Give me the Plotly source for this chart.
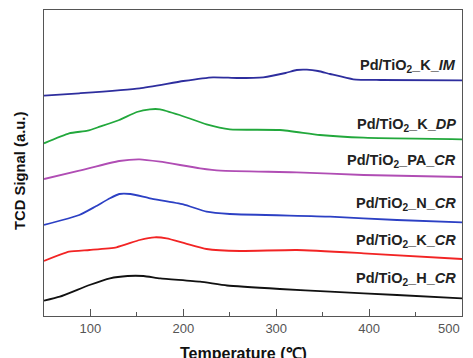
import plotly.graph_objects as go

# Temperature (°C) and TCD signal (a.u., arbitrary offset units)
t_im = [50, 88, 153, 200, 232, 258, 286, 310, 322, 333, 345, 358, 383, 412, 500]
v_im = [220.3, 222.7, 227.7, 235, 238.7, 238, 238.7, 243, 246, 246.3, 245, 242, 236.7, 236, 235.7]

t_dp = [50, 77, 97, 110, 131, 150, 164, 175, 196, 225, 250, 304, 347, 394, 500]
v_dp = [172.7, 182.7, 185.3, 189.3, 196, 204, 206.7, 206.7, 201, 191.7, 186.7, 186, 181, 178.3, 176.7]

t_pa = [50, 88, 131, 153, 175, 218, 240, 322, 394, 500]
v_pa = [137, 145.3, 155, 156.7, 154.3, 147.7, 145.3, 143.7, 141, 139]

t_n = [50, 88, 105, 121, 131, 143, 164, 200, 225, 250, 358, 430, 500]
v_n = [91, 101, 109.3, 117.7, 122, 122, 117.7, 111.7, 104.3, 102, 99.3, 96, 93.7]

t_k = [50, 77, 99, 128, 153, 169, 182, 202, 225, 261, 322, 394, 500]
v_k = [55, 64.3, 66, 68.7, 76, 78.7, 77.7, 72.7, 67, 65, 66, 62.7, 57]

t_h = [50, 67, 99, 121, 140, 157, 175, 218, 247, 304, 358, 430, 500]
v_h = [15.3, 19.3, 31, 37.7, 40, 40, 37.7, 34.3, 30.5, 27, 24.3, 21, 17.7]

labels = ["Pd/TiO<sub>2</sub>_K_<i>IM</i>", "Pd/TiO<sub>2</sub>_K_<i>DP</i>",
          "Pd/TiO<sub>2</sub>_PA_<i>CR</i>", "Pd/TiO<sub>2</sub>_N_<i>CR</i>",
          "Pd/TiO<sub>2</sub>_K_<i>CR</i>", "Pd/TiO<sub>2</sub>_H_<i>CR</i>"]
label_y = [250, 191, 155, 112, 75, 37]

x_ticks = [100, 200, 300, 400, 500]
x_ticktext = ["100", "200", "300", "400", ""]
last_tick_label = "500"

series = [(t_im, v_im, "#2E2E9E"), (t_dp, v_dp, "#22A83C"), (t_pa, v_pa, "#B04DB4"),
          (t_n, v_n, "#2C40C4"), (t_k, v_k, "#F22424"), (t_h, v_h, "#111111")]

FONT = "Liberation Sans, Arial"

fig = go.Figure()
for (t, v, c), name in zip(series, labels):
    fig.add_trace(go.Scatter(x=t, y=v, mode="lines",
                             line=dict(color=c, width=1.8, shape="spline", smoothing=0.5),
                             name=name, showlegend=False, hoverinfo="skip"))

for name, ly in zip(labels, label_y):
    fig.add_annotation(x=0.99, xref="paper", y=ly, yref="y", text="<b>" + name + "</b>",
                       showarrow=False, xanchor="right", yanchor="middle",
                       font=dict(family=FONT, size=14.5, color="#222"))

# x-axis title
fig.add_annotation(x=0.477, xref="paper", y=0, yref="paper", yshift=-37, text="<b>Temperature (℃)</b>",
                   showarrow=False, xanchor="center", yanchor="middle",
                   font=dict(family=FONT, size=16, color="#111"))
# y-axis title
fig.add_annotation(x=0, xref="paper", xshift=-24, y=0.5, yref="paper", yshift=-8, text="<b>TCD Signal (a.u.)</b>",
                   textangle=-90, showarrow=False, xanchor="center", yanchor="middle",
                   font=dict(family=FONT, size=14.8, color="#111"))
# last tick label, right-aligned at frame edge
fig.add_annotation(x=500, xref="x", xanchor="right", y=0, yref="paper", yshift=-12, yanchor="middle",
                   text=last_tick_label, showarrow=False,
                   font=dict(family=FONT, size=13, color="#555"))

fig.update_layout(
    width=473, height=358, margin=dict(l=44, r=11, t=10, b=42),
    paper_bgcolor="white", plot_bgcolor="white",
    xaxis=dict(range=[50, 500], tickvals=x_ticks, ticktext=x_ticktext, ticks="inside", ticklen=7,
               tickcolor="#555",
               minor=dict(tickvals=[150, 250, 350, 450], ticks="inside", ticklen=4, tickcolor="#555"),
               showline=True, linecolor="#555", linewidth=1, mirror=True, showgrid=False, zeroline=False,
               tickfont=dict(family=FONT, size=13, color="#555")),
    yaxis=dict(range=[0, 306], showticklabels=False, ticks="", showline=True, linecolor="#555",
               linewidth=1, mirror=True, showgrid=False, zeroline=False),
)

fig.write_html("out.html", config={"displayModeBar": False},
               post_script="document.body.style.margin='0';document.body.style.overflow='hidden';")
